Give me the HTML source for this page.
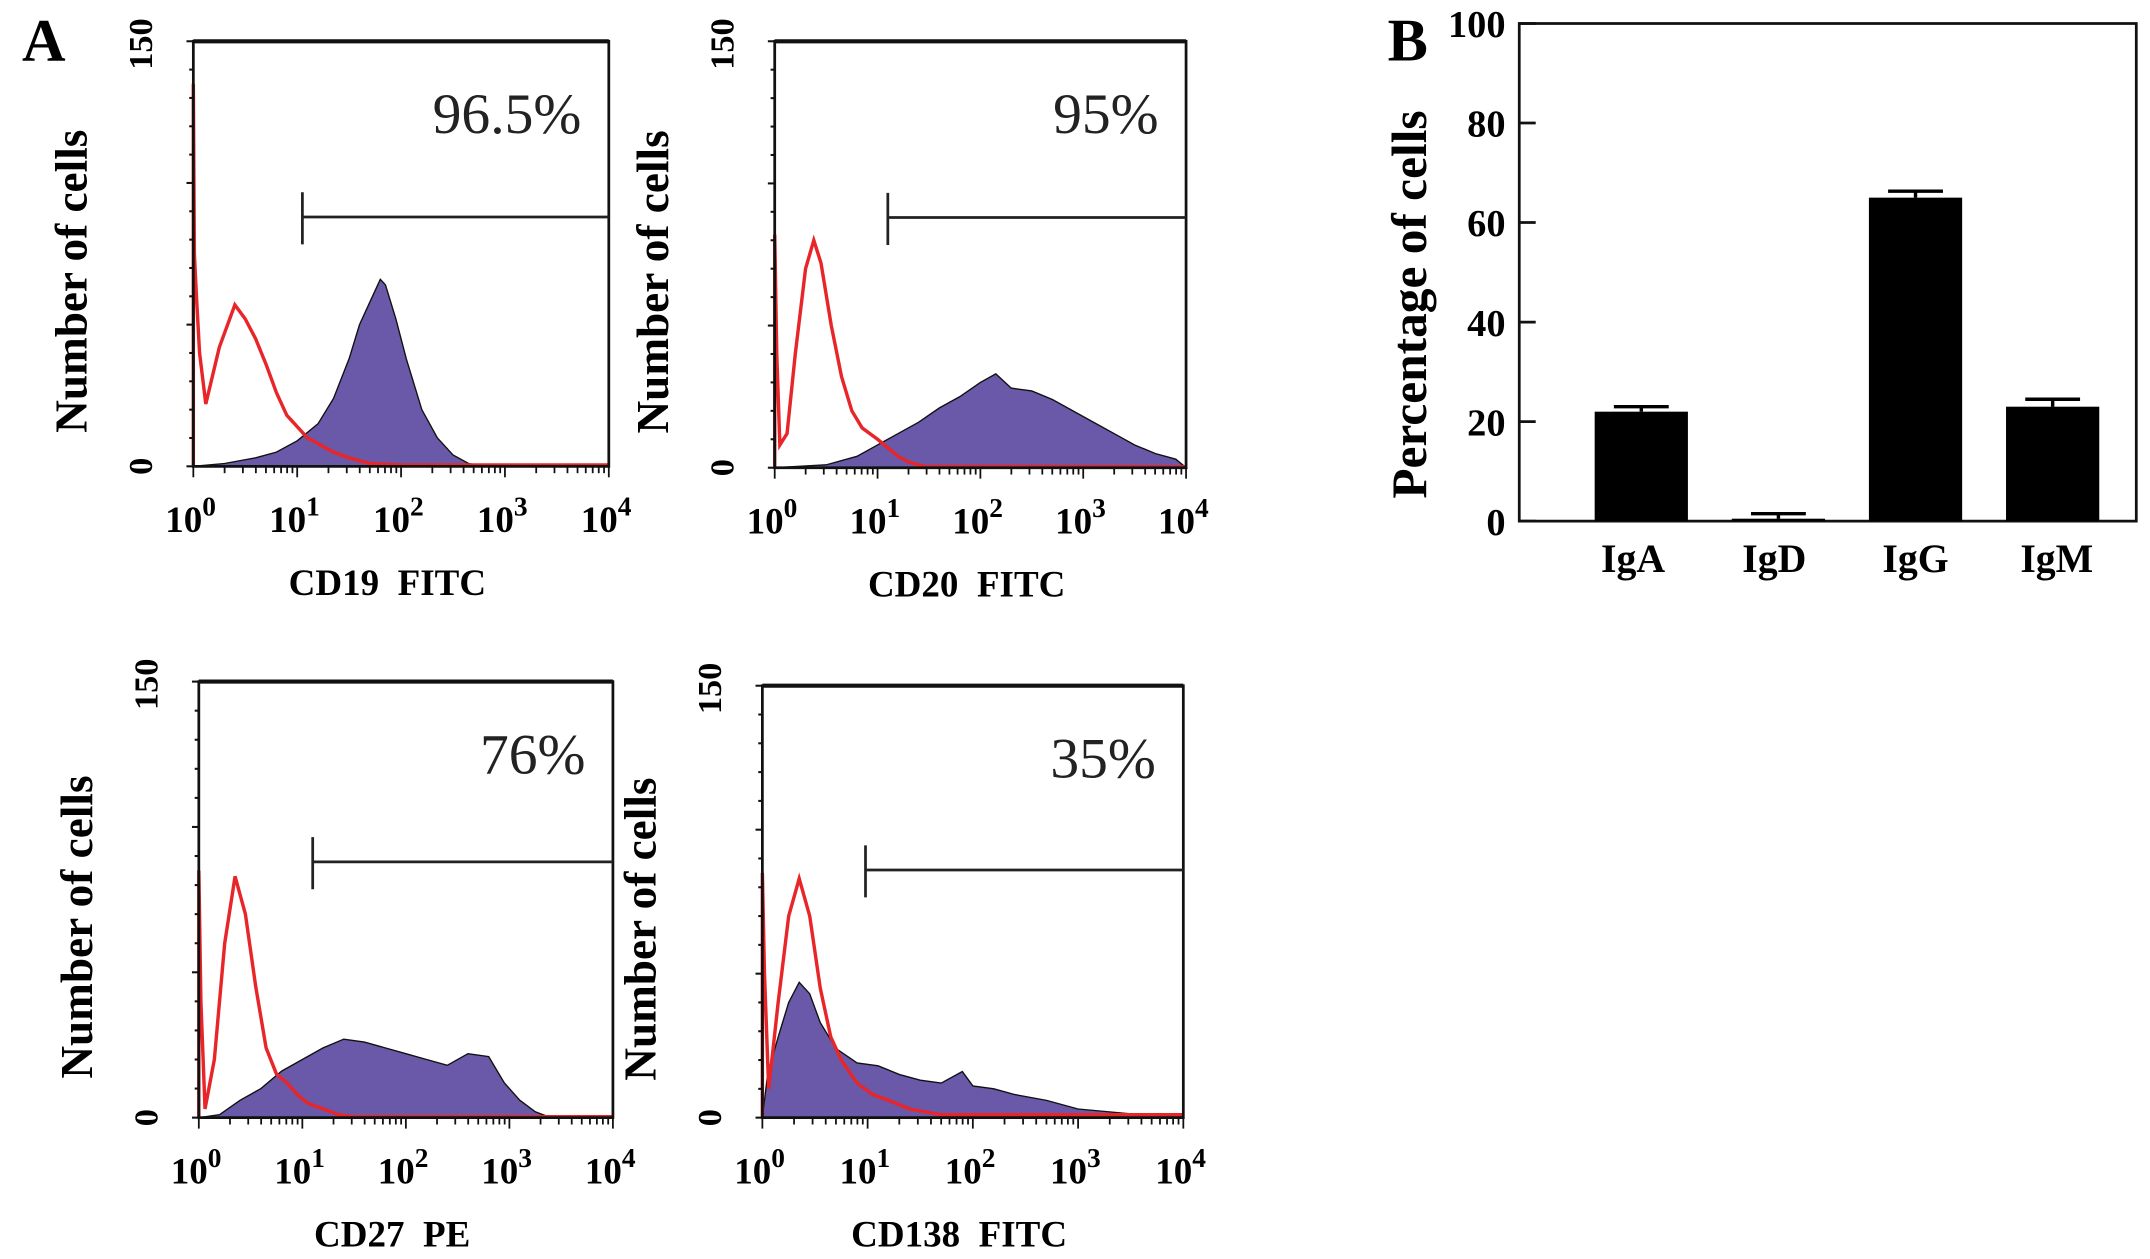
<!DOCTYPE html>
<html><head><meta charset="utf-8"><style>
html,body{margin:0;padding:0;background:#fff;}
svg{display:block;}
text{font-family:"Liberation Serif",serif;}
</style></head><body>
<svg id="fig" width="2150" height="1259" viewBox="0 0 1568 918" xmlns="http://www.w3.org/2000/svg">
<text x="16" y="44" font-size="44" font-weight="bold">A</text>
<text x="1012" y="44" font-size="44" font-weight="bold">B</text>
<g id="hists"></g>
<g id="bars"></g>
</svg>
<script>
// ---------- Flow histogram data (x = log10 intensity, y = count) ----------
const p1Labels = ["CD19\u00a0\u00a0FITC", "96.5%"];
const p1FillX = [0,0.3,0.6,0.8,1.0,1.2,1.35,1.5,1.6,1.7,1.8,1.85,1.95,2.05,2.2,2.35,2.5,2.65,2.8,4];
const p1FillY = [0,1,3,5,9,15,24,38,50,58,66,64,52,38,20,10,4,1,0,0];
const p1RedX = [0,0.01,0.03,0.06,0.12,0.25,0.4,0.5,0.6,0.7,0.8,0.9,1.0,1.1,1.2,1.35,1.5,1.7,2,4];
const p1RedY = [135,75,60,40,22,42,57,52,45,36,26,18,14,10,8,5,3,1,0.5,0.5];

const p2Labels = ["CD20\u00a0\u00a0FITC", "95%"];
const p2FillX = [0,0.5,0.8,1.0,1.2,1.4,1.6,1.8,2.0,2.15,2.3,2.5,2.7,2.9,3.1,3.3,3.5,3.7,3.9,4];
const p2FillY = [0,1,4,8,12,16,21,25,30,33,28,27,24,20,16,12,8,5,3,0];
const p2RedX = [0,0.02,0.05,0.12,0.2,0.3,0.38,0.45,0.55,0.65,0.75,0.85,1.0,1.1,1.2,1.3,1.45,4];
const p2RedY = [82,40,8,12,40,70,80,72,50,32,20,14,10,7,4,2,0.5,0.3];

const p3Labels = ["CD27\u00a0\u00a0PE", "76%"];
const p3FillX = [0,0.2,0.4,0.6,0.8,1.0,1.2,1.4,1.6,1.8,2.0,2.2,2.4,2.6,2.8,2.95,3.1,3.25,3.4,4];
const p3FillY = [0,1,6,10,16,20,24,27,26,24,22,20,18,22,21,12,6,2,0,0];
const p3RedX = [0,0.02,0.06,0.15,0.25,0.35,0.45,0.55,0.65,0.75,0.85,0.95,1.05,1.2,1.35,1.5,4];
const p3RedY = [85,40,3,20,60,83,70,45,24,15,12,8,5,3,1,0.3,0.3];

const p4Labels = ["CD138\u00a0\u00a0FITC", "35%"];
const p4FillX = [0,0.05,0.15,0.25,0.35,0.45,0.55,0.7,0.9,1.1,1.3,1.5,1.7,1.9,2.0,2.2,2.4,2.7,3.0,3.3,3.6,4];
const p4FillY = [0,15,28,40,47,43,33,24,19,18,15,13,12,16,11,10,8,6,3,2,1,0];
const p4RedX = [0,0.02,0.06,0.15,0.25,0.35,0.45,0.55,0.65,0.75,0.9,1.05,1.2,1.4,1.7,2.2,4];
const p4RedY = [85,50,10,40,70,83,70,45,28,20,12,8,6,3,1,1,1];

const xTickLabels = ["0","1","2","3","4"];
const gateX = [1.05, 1.1, 1.1, 0.98];
const gateYCount = [88, 88, 88, 86];

// ---------- Bar chart data ----------
const barCats = ["IgA","IgD","IgG","IgM"];
const barVals = [22, 0.5, 65, 23];
const barErr = [1, 1, 1.3, 1.5];
const barTicks = [0,20,40,60,80,100];

const NS = "http://www.w3.org/2000/svg";
function mk(tag, attrs, parent){ const e=document.createElementNS(NS,tag); for(const k in attrs) e.setAttribute(k,attrs[k]); parent.appendChild(e); return e; }

const panels = [
  {x0:141,x1:444,y0:30,y1:340,fx:p1FillX,fy:p1FillY,rx:p1RedX,ry:p1RedY,lab:p1Labels,name:"cd19"},
  {x0:565,x1:865,y0:30,y1:341,fx:p2FillX,fy:p2FillY,rx:p2RedX,ry:p2RedY,lab:p2Labels,name:"cd20"},
  {x0:145,x1:447,y0:497,y1:815,fx:p3FillX,fy:p3FillY,rx:p3RedX,ry:p3RedY,lab:p3Labels,name:"cd27"},
  {x0:556,x1:863,y0:500,y1:815,fx:p4FillX,fy:p4FillY,rx:p4RedX,ry:p4RedY,lab:p4Labels,name:"cd138"}
];
const H = document.getElementById("hists");
panels.forEach((p,i)=>{
  const g = mk("g",{},H);
  
  
  const sx = v => p.x0 + (p.x1-p.x0)*v/4;
  const sy = c => p.y1 - (p.y1-p.y0)*c/150;
  let d = "M"+sx(p.fx[0])+","+sy(0);
  p.fx.forEach((v,k)=>{ d += " L"+sx(v)+","+sy(p.fy[k]); });
  d += " L"+sx(p.fx[p.fx.length-1])+","+sy(0)+" Z";
  const f = mk("path",{d:d,fill:"#6a58a8",stroke:"#111","stroke-width":1},g);
  
  
  let r = "M"+sx(0)+","+sy(0);
  p.rx.forEach((v,k)=>{ r += " L"+sx(v)+","+sy(p.ry[k]); });
  const rl = mk("path",{d:r,fill:"none",stroke:"#e8262a","stroke-width":2.5},g);
  
  
  const fr = mk("path",{d:`M${p.x0},${p.y1} L${p.x0},${p.y0} L${p.x1},${p.y0} L${p.x1},${p.y1} Z`,fill:"none",stroke:"#111","stroke-width":2},g);
  
  
  mk("line",{x1:p.x0,y1:p.y0,x2:p.x1,y2:p.y0,stroke:"#111","stroke-width":3},g);
  for(let c=0;c<=150;c+=10){ mk("line",{x1:p.x0-(c%50==0?5:3),y1:sy(c),x2:p.x0,y2:sy(c),stroke:"#111","stroke-width":1.5},g); }
  for(let dec=0;dec<4;dec++){ for(let m=1;m<=9;m++){ const v=dec+Math.log10(m); mk("line",{x1:sx(v),y1:p.y1,x2:sx(v),y2:p.y1+(m==1?8:5),stroke:"#111","stroke-width":1.3},g);} }
  mk("line",{x1:sx(4),y1:p.y1,x2:sx(4),y2:p.y1+8,stroke:"#111","stroke-width":1.3},g);
  xTickLabels.forEach((t,k)=>{
    const tx = mk("text",{x:sx(k)-2,y:p.y1+48,"font-size":27,"font-weight":"bold","text-anchor":"middle"},g);
    
    
    tx.innerHTML = '10<tspan dy="-12" font-size="20">'+t+'</tspan>';
  });
  const yl0 = mk("text",{x:0,y:0,"font-size":25,"font-weight":"bold","text-anchor":"middle",transform:`translate(${p.x0-30},${p.y1}) rotate(-90)`},g);
  
  
  yl0.textContent = "0";
  const yl1 = mk("text",{x:0,y:0,"font-size":25,"font-weight":"bold","text-anchor":"middle",transform:`translate(${p.x0-30},${p.y0+2}) rotate(-90)`},g);
  
  
  yl1.textContent = "150";
  const yt = mk("text",{x:0,y:0,"font-size":33,"font-weight":"bold","text-anchor":"middle","font-family":"Liberation Sans, sans-serif",transform:`translate(${p.x0-78},${(p.y0+p.y1)/2+20}) rotate(-90)`},g);
  
  
  yt.textContent = "Number of cells";
  const xt = mk("text",{x:(p.x0+p.x1)/2-10,y:p.y1+94,"font-size":27,"font-weight":"bold","text-anchor":"middle"},g);
  
  
  xt.textContent = p.lab[0];
  const pc = mk("text",{x:p.x1-20,y:p.y0+67,"font-size":42,"text-anchor":"end",fill:"#222"},g);
  
  
  pc.textContent = p.lab[1];
  const gx = sx(gateX[i]), gy = sy(gateYCount[i]);
  const gt = mk("path",{d:`M${gx},${gy-18} L${gx},${gy+20} M${gx},${gy} L${p.x1},${gy}`,stroke:"#222","stroke-width":2,fill:"none"},g);
  
  
});

// ---------- Bar chart ----------
const B = document.getElementById("bars");
const bx0=1108,bx1=1558,by0=17,by1=380;
const bsy = v => by1 - (by1-by0)*v/100;
const bsx = k => 1197 + k*100;
const bf = mk("path",{d:`M${bx0},${by0} L${bx1},${by0} L${bx1},${by1} L${bx0},${by1} Z`,fill:"none",stroke:"#111","stroke-width":2},B);


barTicks.forEach(t=>{
  mk("line",{x1:bx0,y1:bsy(t),x2:bx0+12,y2:bsy(t),stroke:"#111","stroke-width":2},B);
  const tl = mk("text",{x:bx0-10,y:bsy(t)+10,"font-size":28,"font-weight":"bold","text-anchor":"end"},B);
  
  
  tl.textContent = t;
});
barCats.forEach((c,k)=>{
  const cx = bsx(k);
  const b = mk("rect",{x:cx-34,y:bsy(barVals[k]),width:68,height:bsy(0)-bsy(barVals[k]),fill:"#000"},B);
  
  
  const top = bsy(barVals[k]+barErr[k]);
  const e = mk("path",{d:`M${cx},${bsy(barVals[k])} L${cx},${top} M${cx-20},${top} L${cx+20},${top}`,stroke:"#000","stroke-width":2.5,fill:"none"},B);
  
  
  const l = mk("text",{x:cx-6+k*3,y:by1+37,"font-size":29,"font-weight":"bold","text-anchor":"middle"},B);
  
  
  l.textContent = c;
});
const bt = mk("text",{x:0,y:0,"font-size":36,"font-weight":"bold","text-anchor":"middle",transform:`translate(1040,222) rotate(-90)`},B);


bt.textContent = "Percentage of cells";
</script>
</body></html>
